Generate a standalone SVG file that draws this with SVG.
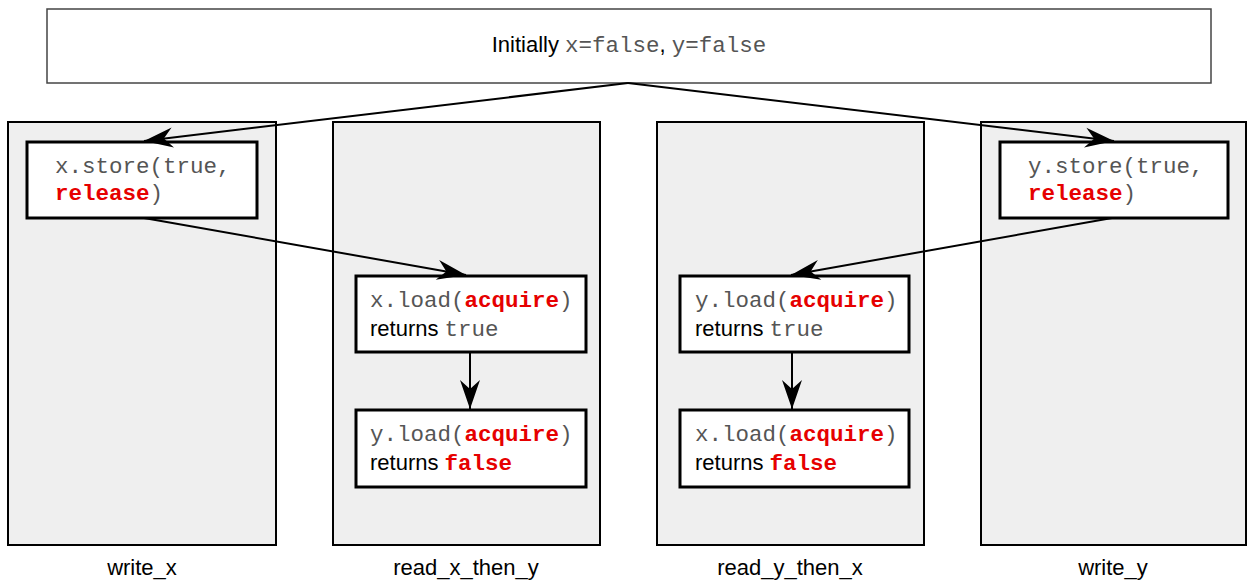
<svg xmlns="http://www.w3.org/2000/svg" width="1248" height="582" viewBox="0 0 1248 582">
<style>
.col{fill:#efefef;stroke:#000;stroke-width:2}
.box{fill:#fff;stroke:#000;stroke-width:3}
.top{fill:#fff;stroke:#444;stroke-width:1.5}
.sans{font-family:"Liberation Sans",Arial,sans-serif;font-size:22px;fill:#000}
.mono{font-family:"Liberation Mono","Courier New",monospace;font-size:22.5px;fill:#555}
.red{font-family:"Liberation Mono","Courier New",monospace;font-size:22.5px;fill:#e60000;font-weight:bold}
.lbl{font-family:"Liberation Sans",Arial,sans-serif;font-size:22px;fill:#000;text-anchor:middle}
.conn{fill:none;stroke:#000;stroke-width:2}
</style>
<defs>
<marker id="ah" markerUnits="userSpaceOnUse" viewBox="0 0 32 22" markerWidth="32" markerHeight="22" refX="30" refY="11" orient="auto">
<path d="M30,11 L1,1 L10,11 L1,21 Z" fill="#000"/>
</marker>
</defs>
<rect width="1248" height="582" fill="#fff"/>
<g id="initial">
<rect class="top" x="47" y="9" width="1164" height="74"/>
<text x="629" y="52" text-anchor="middle"><tspan class="sans">Initially </tspan><tspan class="mono">x=false</tspan><tspan class="sans">, </tspan><tspan class="mono">y=false</tspan></text>
</g>
<g id="write_x">
<rect class="col" x="8" y="122" width="268" height="423"/>
<text class="lbl" x="142" y="575">write_x</text>
</g>
<g id="read_x_then_y">
<rect class="col" x="333" y="122" width="267" height="423"/>
<text class="lbl" x="466" y="575">read_x_then_y</text>
</g>
<g id="read_y_then_x">
<rect class="col" x="657" y="122" width="267" height="423"/>
<text class="lbl" x="790" y="575">read_y_then_x</text>
</g>
<g id="write_y">
<rect class="col" x="981" y="122" width="265" height="423"/>
<text class="lbl" x="1113" y="575">write_y</text>
</g>
<g id="x_store">
<rect class="box" x="27" y="142" width="230" height="76"/>
<text x="55" y="173"><tspan class="mono">x.store(true,</tspan></text>
<text x="55" y="200"><tspan class="red">release</tspan><tspan class="mono">)</tspan></text>
</g>
<g id="y_store">
<rect class="box" x="1000" y="142" width="228" height="76"/>
<text x="1028" y="173"><tspan class="mono">y.store(true,</tspan></text>
<text x="1028" y="200"><tspan class="red">release</tspan><tspan class="mono">)</tspan></text>
</g>
<g id="x_load_1">
<rect class="box" x="356" y="276" width="230" height="76"/>
<text x="370" y="307"><tspan class="mono">x.load(</tspan><tspan class="red">acquire</tspan><tspan class="mono">)</tspan></text>
<text x="370" y="336"><tspan class="sans">returns </tspan><tspan class="mono">true</tspan></text>
</g>
<g id="y_load_1">
<rect class="box" x="356" y="410" width="230" height="77"/>
<text x="370" y="441"><tspan class="mono">y.load(</tspan><tspan class="red">acquire</tspan><tspan class="mono">)</tspan></text>
<text x="370" y="470"><tspan class="sans">returns </tspan><tspan class="red">false</tspan></text>
</g>
<g id="y_load_2">
<rect class="box" x="680" y="276" width="229" height="76"/>
<text x="695" y="307"><tspan class="mono">y.load(</tspan><tspan class="red">acquire</tspan><tspan class="mono">)</tspan></text>
<text x="695" y="336"><tspan class="sans">returns </tspan><tspan class="mono">true</tspan></text>
</g>
<g id="x_load_2">
<rect class="box" x="680" y="410" width="229" height="77"/>
<text x="695" y="441"><tspan class="mono">x.load(</tspan><tspan class="red">acquire</tspan><tspan class="mono">)</tspan></text>
<text x="695" y="470"><tspan class="sans">returns </tspan><tspan class="red">false</tspan></text>
</g>
<g id="connectors">
<path class="conn" marker-end="url(#ah)" d="M628,83 L144,141"/>
<path class="conn" marker-end="url(#ah)" d="M628,83 L1114,141"/>
<path class="conn" marker-end="url(#ah)" d="M144,218 L466,275"/>
<path class="conn" marker-end="url(#ah)" d="M1112,218 L791,275"/>
<path class="conn" marker-end="url(#ah)" d="M470,352 L470,409"/>
<path class="conn" marker-end="url(#ah)" d="M792,352 L792,409"/>
</g>
</svg>
